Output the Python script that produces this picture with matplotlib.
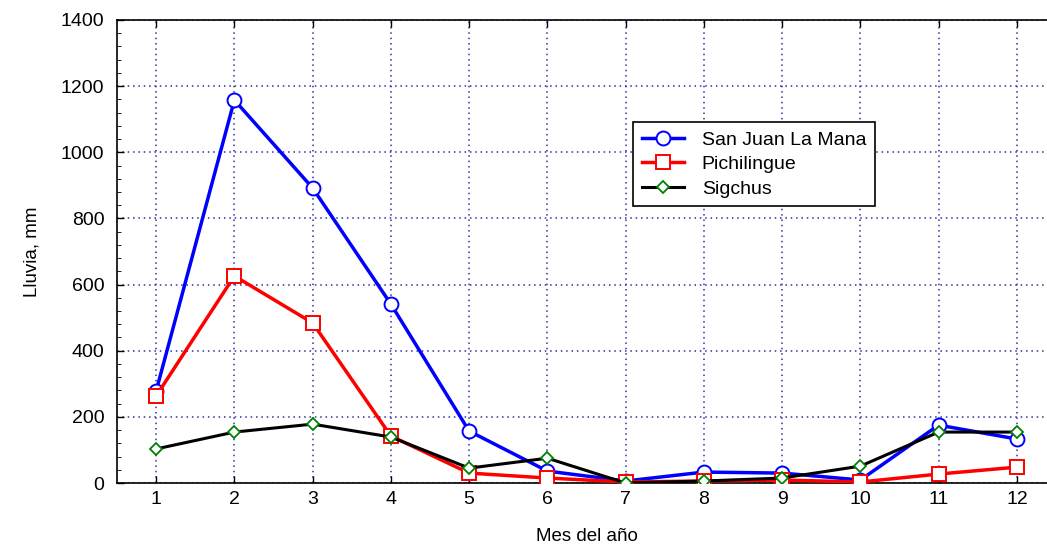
import matplotlib.pyplot as plt
from matplotlib.ticker import MultipleLocator

plt.rcParams['font.family'] = ['Liberation Sans', 'DejaVu Sans']

# monthly rainfall (mm)
meses = list(range(1, 13))
san_juan = [278, 1158, 892, 541, 157, 36, 6, 33, 30, 9, 175, 133]
pichilingue = [263, 626, 484, 142, 30, 15, 3, 6, 9, 3, 27, 48]
sigchus = [103, 154, 178, 139, 45, 75, 0, 6, 15, 51, 154, 154]

fig = plt.figure(figsize=(10.47, 5.45), dpi=100)
# the original plot runs past the right edge of the image
ax = fig.add_axes([117/1047, 62/545, 939/1047, 463/545])

ax.plot(meses, san_juan, '-o', color='blue', lw=2.5, ms=10, mfc='white',
        mec='blue', mew=1.4, label='San Juan La Mana', zorder=3)
ax.plot(meses, pichilingue, '-s', color='red', lw=2.5, ms=10, mfc='white',
        mec='red', mew=1.4, label='Pichilingue', zorder=3)
ax.plot(meses, sigchus, '-D', color='black', lw=2.2, ms=6, mfc='white',
        mec='green', mew=1.3, label='Sigchus', zorder=4)

ax.set_xlim(0.5, 12.5)
ax.set_ylim(0, 1400)
ax.set_xticks(meses)
ax.yaxis.set_major_locator(MultipleLocator(200))
ax.yaxis.set_minor_locator(MultipleLocator(40))
ax.tick_params(axis='both', which='major', direction='in', labelsize=14,
               length=5, top=True, width=1)
ax.tick_params(axis='y', which='minor', direction='in', length=3)
ax.tick_params(axis='x', pad=6)
ax.tick_params(axis='y', pad=9)
ax.grid(True, which='major', color='#3030a0', linestyle=(0, (1, 2.5)), lw=1.1)

for s in ax.spines.values():
    s.set_linewidth(1.2)

ax.set_xlabel('Mes del año', fontsize=13.5, labelpad=14)
ax.set_ylabel('Lluvia, mm', fontsize=13.5, labelpad=15)

leg = ax.legend(loc='upper left', bbox_to_anchor=(0.539, 0.80), fontsize=14,
                frameon=True, fancybox=False, edgecolor='black',
                handlelength=2.2, borderpad=0.45, labelspacing=0.35,
                handletextpad=0.9)
leg.get_frame().set_linewidth(1.2)
leg.get_frame().set_alpha(1)

fig.savefig('out.png', dpi=100)
